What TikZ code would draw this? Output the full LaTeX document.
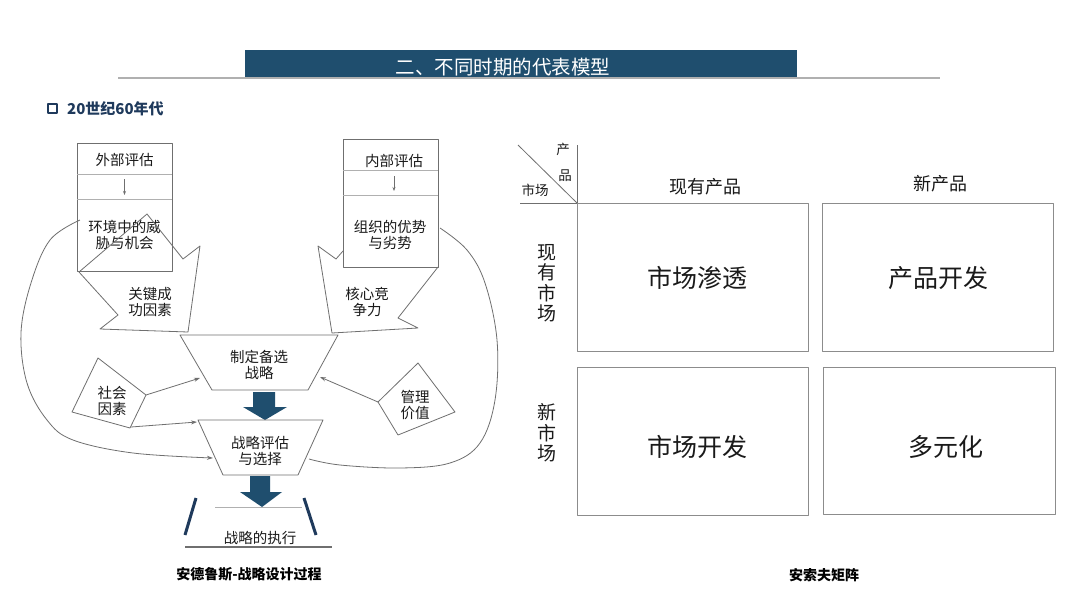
\documentclass[tikz,border=0pt]{standalone}
\usepackage{fontspec}
\setmainfont{Noto Sans CJK SC}
\usetikzlibrary{arrows.meta}
\definecolor{hdr}{HTML}{1F4E6E}
\definecolor{navy}{HTML}{1F3A5C}
\definecolor{ln}{HTML}{6F6F6F}
\definecolor{lnl}{HTML}{B0B0B0}
\definecolor{txt}{HTML}{1A1A1A}
\tikzset{
  dtext/.style={text=txt, font=\fontsize{14.5}{16.5}\selectfont, align=center, inner sep=0pt},
  outl/.style={draw=ln, line width=0.8pt},
  conn/.style={draw=ln, line width=0.8pt, -{Stealth[length=6pt,width=4pt]}},
  blockarrow/.style={fill=hdr},
  mbox/.style={draw=ln!80, line width=0.9pt},
  mtext/.style={text=txt, font=\fontsize{25}{25}\selectfont, inner sep=0pt},
  htext/.style={text=txt, font=\fontsize{18}{18}\selectfont, inner sep=0pt},
  vtext/.style={text=txt, font=\fontsize{19}{20.5}\selectfont, align=center, inner sep=0pt},
  stext/.style={text=txt, font=\fontsize{13.5}{15}\selectfont, inner sep=0pt},
  caption/.style={text=black, font=\bfseries\fontsize{14}{14}\selectfont, inner sep=0pt}
}
\begin{document}
\begin{tikzpicture}[x=1pt,y=-1pt,line join=round]
\useasboundingbox (0,0) rectangle (1080,608);
\fill[white] (0,0) rectangle (1080,608);
% header
\fill[hdr] (245,50) rectangle (797,78);
\draw[lnl, line width=1.2pt] (118,78) -- (940,78);
\node[text=white, font=\fontsize{19.5}{19.5}\selectfont, inner sep=0pt] (title) at (503,67) {二、不同时期的代表模型};
% section heading
\draw[navy, line width=1.6pt] (48,104) rectangle (57,113);
\node[anchor=west, text=navy, font=\bfseries\fontsize{15}{15}\selectfont, inner sep=0pt] (sec) at (67,108.5) {20世纪60年代};

% ---------- left diagram ----------
% external box
\draw[outl] (77,143) rectangle (172,271);
\draw[lnl, line width=0.7pt] (77,174) -- (172,174) (77,199) -- (172,199);
\node[dtext] (ext) at (124.5,160) {外部评估};
\coordinate (extA) at (124.5,179);
\coordinate (extB) at (124.5,195);
\draw[draw=ln, line width=0.7pt, -{Stealth[length=4pt,width=3pt]}] (extA) -- (extB);
\node[dtext] (env) at (124.5,235) {环境中的威\\胁与机会};
% left block arrow
\draw[outl] (79,272) -- (147,214) -- (183,259) -- (200,246) -- (188,332) -- (100,329) -- (118,315) -- cycle;
\node[dtext] (ksf) at (150,302) {关键成\\功因素};

% internal box
\draw[outl] (343,139) rectangle (438,267);
\draw[lnl, line width=0.7pt] (343,170) -- (438,170) (343,195) -- (438,195);
\node[dtext] (int) at (394,161) {内部评估};
\coordinate (intA) at (394,176);
\coordinate (intB) at (394,191);
\draw[draw=ln, line width=0.7pt, -{Stealth[length=4pt,width=3pt]}] (intA) -- (intB);
\node[dtext] (org) at (390,235) {组织的优势\\与劣势};
% right block arrow
\draw[outl] (343,251) -- (336,259) -- (318,246) -- (332,333) -- (418,328) -- (398,318) -- (438,267);
\node[dtext] (core) at (367,302) {核心竞\\争力};

% trapezoid 1
\draw[outl] (180,335) -- (338,335) -- (308,390) -- (212,390) -- cycle;
\node[dtext] (form) at (259,365) {制定备选\\战略};
\coordinate (t1L) at (200,378);
\coordinate (t1R) at (320,377);
% dark arrow 1
\fill[blockarrow] (253,392) -- (275,392) -- (275,407) -- (287,407) -- (265,420) -- (243,407) -- (253,407) -- cycle;
% trapezoid 2
\draw[outl] (198,420) -- (323,420) -- (298,475) -- (223,475) -- cycle;
\node[dtext] (eval) at (260,451) {战略评估\\与选择};
\coordinate (t2L) at (197,422);
\coordinate (t2C) at (213,458);
\coordinate (t2R) at (309,459);
% dark arrow 2
\fill[blockarrow] (250,476) -- (270,476) -- (270,492) -- (282,492) -- (262,507) -- (240,492) -- (250,492) -- cycle;
% execution
\draw[navy, line width=3pt] (196,498) -- (185,535);
\draw[navy, line width=3pt] (304,498) -- (316,535);
\draw[lnl, line width=1pt] (215,507) -- (302,507);
\draw[ln, line width=1.1pt] (185,547) -- (332,547);
\node[dtext] (exec) at (260,538) {战略的执行};

% social diamond
\draw[outl] (98,358) -- (146,395) -- (130,428) -- (72,412) -- cycle;
\coordinate (socR) at (146,395);
\coordinate (socB) at (131,427);
\node[dtext] (soc) at (112,401) {社会\\因素};
% management diamond
\draw[outl] (418,363) -- (455,412) -- (398,435) -- (378,402) -- cycle;
\coordinate (mgL) at (378,402);
\node[dtext] (mg) at (415,405) {管理\\价值};

% connectors
\draw[conn] (socR) -- (t1L);
\draw[conn] (socB) -- (t2L);
\draw[conn] (mgL) -- (t1R);
\coordinate (envW) at (80,220);
\coordinate (orgE) at (440,228);
\draw[conn] plot[smooth, tension=0.6] coordinates {(envW) (50,240) (31,283) (21,333) (27,383) (47,420) (73,440) (133,453) (t2C)};
\draw[outl] plot[smooth, tension=0.6] coordinates {(orgE) (467,250) (485,283) (497,340) (495,400) (480,443) (450,463) (400,468) (340,465) (t2R)};

\node[caption] (cap1) at (249,574) {安德鲁斯-战略设计过程};

% ---------- right: Ansoff matrix ----------
\coordinate (cornerTL) at (518,145);
\coordinate (corner) at (577,203);
\coordinate (vtop) at (577,145);
\coordinate (hleft) at (520,203);
\draw[outl] (cornerTL) -- (corner);
\draw[outl] (vtop) -- (corner);
\draw[outl] (hleft) -- (corner);
\node[stext] (cp1) at (563,149) {产};
\node[stext] (cp2) at (565,176) {品};
\node[stext] (cm) at (535,190) {市场};
\node[htext] (col1) at (705,187) {现有产品};
\node[htext] (col2) at (940,184) {新产品};
\node[vtext] (row1) at (547,283) {现\\有\\市\\场};
\node[vtext] (row2) at (547,433) {新\\市\\场};

\draw[mbox] (577,203) rectangle (808,351);
\draw[mbox] (822,203) rectangle (1053,351);
\draw[mbox] (577,367) rectangle (808,515);
\draw[mbox] (823,367) rectangle (1055,514);
\node[mtext] (q1) at (697,278) {市场渗透};
\node[mtext] (q2) at (938,278) {产品开发};
\node[mtext] (q3) at (697,447) {市场开发};
\node[mtext] (q4) at (946,447) {多元化};

\node[caption] (cap2) at (824,575) {安索夫矩阵};
\end{tikzpicture}
\end{document}
